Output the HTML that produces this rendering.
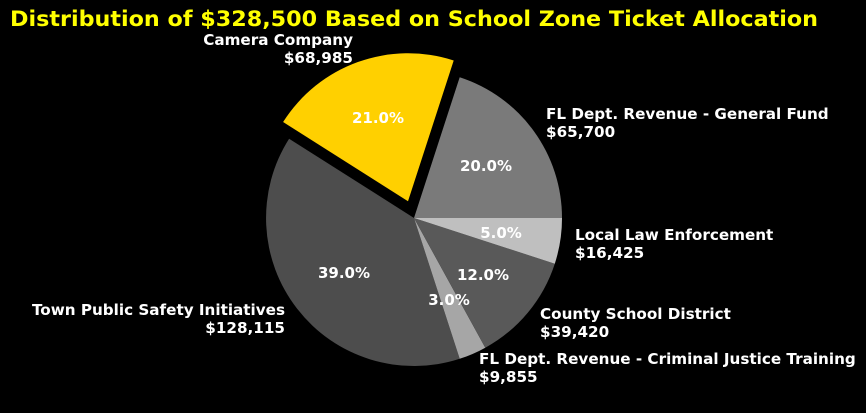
<!DOCTYPE html>
<html><head><style>body{margin:0;background:#000}svg{display:block}</style></head>
<body>
<svg width="866" height="413" viewBox="0 0 866 413" xmlns="http://www.w3.org/2000/svg" font-family="DejaVu Sans, sans-serif" font-weight="bold">
<rect width="866" height="413" fill="#000"/>
<text x="10" y="26" fill="#ffff00" font-size="21" textLength="808" lengthAdjust="spacingAndGlyphs">Distribution of $328,500 Based on School Zone Ticket Allocation</text>
<path d="M414,218 L562,218 A148,148 0 0 0 459.7,77.2 Z" fill="#7a7a7a"/>
<path d="M408,201.3 L453.7,60.5 A148,148 0 0 0 283.1,122 Z" fill="#ffd000"/>
<path d="M414,218 L289.1,138.7 A148,148 0 0 0 459.7,358.8 Z" fill="#4d4d4d"/>
<path d="M414,218 L459.7,358.8 A148,148 0 0 0 485.3,347.7 Z" fill="#a6a6a6"/>
<path d="M414,218 L485.3,347.7 A148,148 0 0 0 554.8,263.7 Z" fill="#595959"/>
<path d="M414,218 L554.8,263.7 A148,148 0 0 0 562,218 Z" fill="#bfbfbf"/>
<g fill="#fff" font-size="15" text-anchor="middle">
<text x="486" y="171">20.0%</text>
<text x="378" y="123">21.0%</text>
<text x="344" y="278">39.0%</text>
<text x="449" y="305">3.0%</text>
<text x="483" y="280">12.0%</text>
<text x="501" y="238">5.0%</text>
</g>
<g fill="#fff" font-size="15.2">
<text x="353" y="45" text-anchor="end">Camera Company</text>
<text x="353" y="63" text-anchor="end">$68,985</text>
<text x="546" y="119">FL Dept. Revenue - General Fund</text>
<text x="546" y="137">$65,700</text>
<text x="575" y="240">Local Law Enforcement</text>
<text x="575" y="258">$16,425</text>
<text x="540" y="319">County School District</text>
<text x="540" y="337">$39,420</text>
<text x="479" y="364">FL Dept. Revenue - Criminal Justice Training</text>
<text x="479" y="382">$9,855</text>
<text x="285" y="315" text-anchor="end">Town Public Safety Initiatives</text>
<text x="285" y="333" text-anchor="end">$128,115</text>
</g>
</svg>
</body></html>
